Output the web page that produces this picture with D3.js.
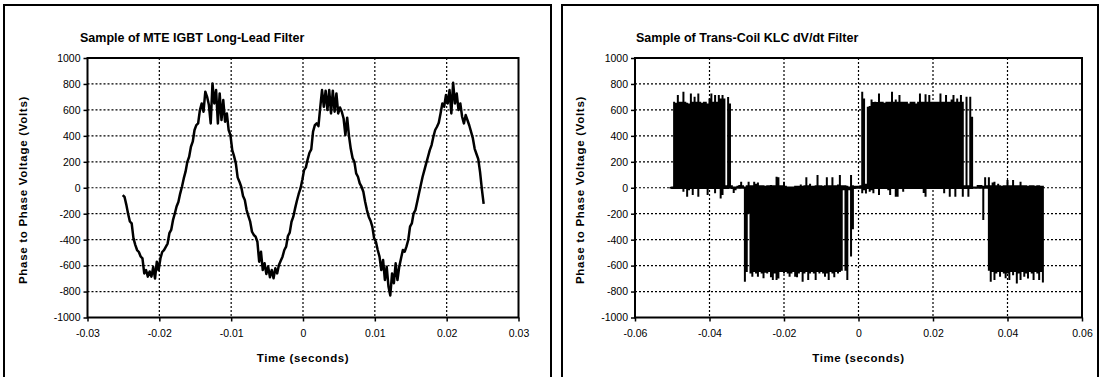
<!DOCTYPE html>
<html>
<head>
<meta charset="utf-8">
<script src="https://cdn.jsdelivr.net/npm/d3@7"></script>
<style>
  html, body { margin: 0; padding: 0; background: #fff; }
  svg { display: block; font-family: Arial, "Liberation Sans", sans-serif; }
</style>
</head>
<body>
<svg id="chart" width="1102" height="377"></svg>
<script>
// ---- data ----
const mteTitle = "Sample of MTE IGBT Long-Lead Filter";
const klcTitle = "Sample of Trans-Coil KLC dV/dt Filter";
const yLabel = "Phase to Phase Voltage (Volts)";
const xLabel = "Time (seconds)";

const voltTicks = [-1000, -800, -600, -400, -200, 0, 200, 400, 600, 800, 1000];
const mteTimeTicks = [-0.03, -0.02, -0.01, 0, 0.01, 0.02, 0.03];
const klcTimeTicks = [-0.06, -0.04, -0.02, 0, 0.02, 0.04, 0.06];

// MTE trace, one sample every 0.25 ms from -25.1 ms
const mteStart = -0.0251, mteStep = 0.00025;
const mteVolts = [
  -56, -70, -130, -200, -260, -275, -390, -440, -480, -495,
  -530, -545, -660, -635, -685, -645, -685, -610, -700, -570,
  -635, -545, -495, -480, -455, -430, -350, -325, -250, -200,
  -145, -110, -45, 8, 72, 124, 200, 239, 316, 355,
  445, 483, 496, 599, 650, 586, 740, 701, 637, 496,
  804, 650, 753, 496, 727, 522, 676, 509, 573, 445,
  406, 290, 244, 188, 80, 47, 8, -64, -95, -172,
  -218, -262, -339, -364, -377, -416, -570, -493, -634, -582,
  -665, -608, -690, -634, -698, -621, -660, -595, -562, -531,
  -480, -454, -372, -346, -262, -223, -159, -100, -48, -5,
  59, 136, 157, 219, 270, 296, 432, 483, 496, 475,
  619, 753, 624, 748, 599, 753, 573, 748, 586, 727,
  573, 619, 586, 534, 406, 540, 400, 300, 230, 200,
  111, 85, 34, 8, -31, -108, -172, -223, -254, -300,
  -390, -416, -480, -531, -634, -557, -711, -608, -762, -830,
  -660, -736, -582, -711, -608, -544, -480, -493, -454, -403,
  -300, -275, -197, -172, -108, -43, 21, 85, 136, 188,
  239, 290, 329, 393, 445, 470, 501, 573, 650, 624,
  714, 650, 753, 573, 809, 650, 727, 599, 650, 547,
  496, 560, 520, 480, 430, 380, 300, 260, 220, 120,
  -10, -125
];

// KLC trace is switching far faster than a pixel: max / min per 0.5 ms bin from -50.5 ms
const klcStart = -0.0505, klcStep = 0.0005;
const klcHigh = [
  5, 10, 663, 655, 714, 663, 663, 740, 663, 655,
  650, 727, 663, 701, 663, 727, 663, 655, 663, 663,
  650, 688, 727, 663, 714, 663, 714, 688, 714, 688,
  20, 700, 650, 20, 10, 10, 15, 21, 47, 20,
  10, 20, 47, 20, 20, 47, 30, 40, 20, 20,
  20, 15, 20, 20, 21, 20, 20, 85, 80, 20,
  20, 47, 15, 10, 10, 10, 10, 15, 15, 15,
  25, 15, 20, 80, 20, 30, 15, 15, 20, 98,
  20, 20, 15, 20, 80, 20, 20, 80, 20, 20,
  25, 98, 20, 20, 20, 15, 10, 98, 20, 15,
  15, 15, 20, 740, 688, 30, 624, 630, 680, 660,
  663, 660, 727, 663, 663, 655, 663, 663, 663, 740,
  663, 680, 663, 714, 663, 663, 663, 663, 650, 663,
  663, 663, 650, 663, 727, 663, 663, 720, 663, 714,
  663, 663, 663, 663, 663, 727, 663, 663, 714, 663,
  663, 680, 714, 663, 688, 663, 714, 663, 20, 701,
  20, 701, 547, 10, 10, 21, 21, 21, 15, 80,
  20, 80, 20, 40, 47, 20, 30, 20, 15, 20,
  20, 59, 20, 20, 59, 20, 20, 20, 47, 20,
  20, 20, 15, 20, 20, 20, 15, 20, 20, 15,
  15
];
const klcLow = [
  -5, -10, -10, -10, -10, -10, -10, -30, -10, -69,
  -20, -10, -56, -10, -10, -69, -10, -10, -10, -10,
  -56, -10, -10, -10, -43, -10, -10, -82, -56, -10,
  -10, -10, 0, -10, -40, -20, 0, 0, 0, 0,
  -724, -650, -200, -660, -685, -650, -660, -685, -650, -660,
  -698, -655, -660, -650, -690, -711, -660, -711, -700, -650,
  -650, -660, -650, -660, -685, -660, -650, -685, -690, -660,
  -650, -724, -660, -650, -711, -660, -650, -660, -711, -650,
  -660, -650, -660, -685, -660, -711, -650, -660, -690, -650,
  -660, -650, -640, -20, -640, -711, -20, -530, -320, -10,
  -5, -5, -5, -43, -20, -45, -10, -30, -20, -43,
  -10, -10, -56, -10, -10, -10, -10, -20, -56, -10,
  -10, -69, -69, -10, -10, -30, -10, -10, -10, -10,
  -10, -10, -10, -10, -10, -10, -40, -69, -10, -10,
  -10, -10, -10, -10, -10, -10, -10, -43, -10, -10,
  -69, -10, -10, -69, -10, -10, -10, -69, -10, -10,
  -69, -10, -10, 0, 0, 0, 0, 0, -249, 0,
  0, -640, -724, -650, -711, -660, -650, -685, -650, -660,
  -698, -660, -711, -650, -675, -650, -737, -660, -711, -650,
  -685, -660, -700, -650, -660, -711, -650, -660, -711, -650,
  -730
];

// ---- build series ----
const mtePoints = mteVolts.map((v, i) => [mteStart + i * mteStep, v]);
// each bin: baseline -> max -> min -> baseline, like the scope paints it
const klcPoints = klcHigh.flatMap((hi, i) => {
  const t = klcStart + i * klcStep;
  return [[t, 0], [t, hi], [t, klcLow[i]], [t, 0]];
});

const svg = d3.select("#chart");

function drawPanel(o) {
  const g = svg.append("g");

  // outer chart border
  g.append("rect")
    .attr("x", o.box[0]).attr("y", o.box[1])
    .attr("width", o.box[2] - o.box[0]).attr("height", o.box[3] - o.box[1])
    .attr("fill", "none").attr("stroke", "#000").attr("stroke-width", 2);

  const x = d3.scaleLinear().domain(d3.extent(o.xTicks)).range([o.plot.l, o.plot.r]);
  const y = d3.scaleLinear().domain([-1000, 1000]).range([o.plot.b, o.plot.t]);

  // dotted grid
  g.append("g").selectAll("line.h")
    .data(voltTicks.slice(1, -1))
    .join("line")
    .attr("x1", o.plot.l).attr("x2", o.plot.r)
    .attr("y1", d => y(d)).attr("y2", d => y(d))
    .attr("stroke", "#000").attr("stroke-width", 1.2)
    .attr("stroke-dasharray", "2,2");
  g.append("g").selectAll("line.v")
    .data(o.xTicks.slice(1, -1))
    .join("line")
    .attr("x1", d => x(d)).attr("x2", d => x(d))
    .attr("y1", o.plot.t).attr("y2", o.plot.b)
    .attr("stroke", "#000").attr("stroke-width", 1.2)
    .attr("stroke-dasharray", "2,2");

  // trace
  const line = d3.line().x(d => x(d[0])).y(d => y(d[1]));
  g.append("path")
    .attr("d", line(o.points))
    .attr("fill", "none")
    .attr("stroke", "#000")
    .attr("stroke-width", o.lineWidth)
    .attr("stroke-linejoin", o.join);

  // plot frame
  g.append("rect")
    .attr("x", o.plot.l).attr("y", o.plot.t)
    .attr("width", o.plot.r - o.plot.l).attr("height", o.plot.b - o.plot.t)
    .attr("fill", "none").attr("stroke", "#000").attr("stroke-width", 2);

  // axes
  const yAxis = g.append("g")
    .attr("transform", `translate(${o.plot.l},0)`)
    .call(d3.axisLeft(y).tickValues(voltTicks).tickSize(4).tickPadding(3).tickFormat(d => String(d)));
  const xAxis = g.append("g")
    .attr("transform", `translate(0,${o.plot.b})`)
    .call(d3.axisBottom(x).tickValues(o.xTicks).tickSize(4).tickPadding(8).tickFormat(d => String(d)));
  [yAxis, xAxis].forEach(a => {
    a.select(".domain").remove();
    a.selectAll("line").attr("stroke", "#000").attr("stroke-width", 1.5);
    a.selectAll("text")
      .attr("fill", "#000")
      .style("font-family", 'Arial, "Liberation Sans", sans-serif')
      .style("font-size", "10.5px");
  });

  // titles
  g.append("text")
    .attr("x", o.titleX).attr("y", 42)
    .style("font-size", "12.5px").style("font-weight", "bold")
    .text(o.title);
  g.append("text")
    .attr("x", (o.plot.l + o.plot.r) / 2).attr("y", 362)
    .attr("text-anchor", "middle")
    .style("font-size", "11.5px").style("font-weight", "bold")
    .style("letter-spacing", "0.6px")
    .text(xLabel);
  g.append("text")
    .attr("transform", `translate(${o.yLabelX},190) rotate(-90)`)
    .attr("text-anchor", "middle")
    .style("font-size", "11.5px").style("font-weight", "bold")
    .style("letter-spacing", "0.7px")
    .text(yLabel);
}

drawPanel({
  box: [4, 5, 551, 382],
  plot: { l: 87.5, r: 518.5, t: 58, b: 317.5 },
  xTicks: mteTimeTicks,
  points: mtePoints,
  lineWidth: 2.5,
  join: "round",
  title: mteTitle,
  titleX: 80,
  yLabelX: 27
});

drawPanel({
  box: [562, 5, 1098, 382],
  plot: { l: 635, r: 1082, t: 58, b: 317.5 },
  xTicks: klcTimeTicks,
  points: klcPoints,
  lineWidth: 2,
  join: "bevel",
  title: klcTitle,
  titleX: 636,
  yLabelX: 584
});
</script>
</body>
</html>
